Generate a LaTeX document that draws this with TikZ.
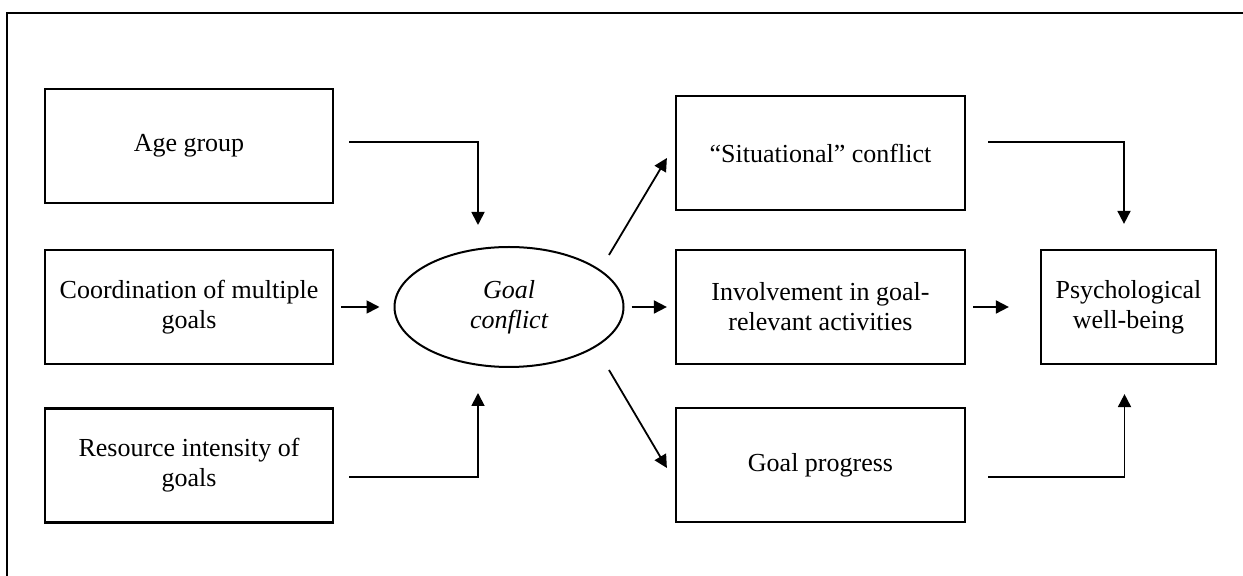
\documentclass[tikz,border=0pt]{standalone}
\usepackage{fontspec}
\setmainfont{Liberation Serif}
\usetikzlibrary{shapes.geometric,arrows.meta}

\begin{document}
\begin{tikzpicture}[x=0.5pt,y=-0.5pt,
    box/.style={draw, line width=1.1pt, minimum width=144pt, minimum height=57pt,
        inner sep=2pt, align=center, font=\fontsize{13}{15}\selectfont},
    flow/.style={line width=0.9pt, -{Triangle[length=6.5pt,width=6.5pt]}}]
    \useasboundingbox (0,0) rectangle (1243,576);
    % Outer frame, runs off the page on the right and at the bottom
    \draw [line width=1pt] (7,590) -- (7,13) -- (1260,13);

    % Left: predictors
    \node [box] (age) at (189,146) {Age group};
    \node [box] (coord) at (189,307) {Coordination of multiple\\goals};
    \node [box] (res) at (189,465.5) {Resource intensity of\\goals};

    % Middle: goal conflict
    \node [draw, ellipse, line width=1pt, minimum width=114.5pt, minimum height=60pt,
        inner sep=0pt, align=center, font=\fontsize{13}{15}\selectfont\itshape]
        (goal) at (509,307) {Goal\\conflict};

    % Right: outcomes
    \node [box, minimum width=144.5pt] (sit) at (820.5,153) {“Situational” conflict};
    \node [box, minimum width=144.5pt] (inv) at (820.5,307) {Involvement in goal-\\relevant activities};
    \node [box, minimum width=144.5pt] (prog) at (820.5,465) {Goal progress};
    \node [box, minimum width=87.5pt] (wb) at (1128.5,307) {Psychological\\well-being};

    % Free arrow ends above and below the ellipse
    \coordinate (ageIn) at (478,225);
    \coordinate (resIn) at (478,393);

    % Predictors into goal conflict
    \draw [flow] ([shift={(7.5pt,2pt)}]age.east) -| (ageIn);
    \draw [flow] ([xshift=3.5pt]coord.east) -- ([xshift=-7pt]goal.west);
    \draw [flow] ([shift={(7.5pt,-5.75pt)}]res.east) -| (resIn);

    % Goal conflict into outcomes
    \draw [flow] ([shift={(-7.75pt,26pt)}]goal.east) -- ([shift={(-4pt,-2.5pt)}]sit.west);
    \draw [flow] ([xshift=3.5pt]goal.east) -- ([xshift=-4pt]inv.west);
    \draw [flow] ([shift={(-7.75pt,-31.5pt)}]goal.east) -- ([shift={(-4pt,-1.5pt)}]prog.west);

    % Outcomes into well-being
    \draw [flow] ([shift={(11pt,5.5pt)}]sit.east) -| ([shift={(-2.25pt,12.5pt)}]wb.north);
    \draw [flow] ([xshift=3.5pt]inv.east) -- ([xshift=-15.5pt]wb.west);
    \draw [flow] ([shift={(11pt,-6pt)}]prog.east) -| ([shift={(-2pt,-14.5pt)}]wb.south);
\end{tikzpicture}
\end{document}
